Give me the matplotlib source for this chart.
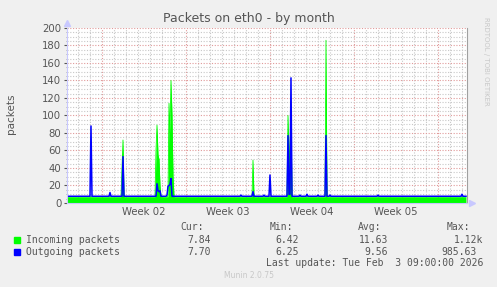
import numpy as np
import matplotlib
matplotlib.use("Agg")
import matplotlib.pyplot as plt
from matplotlib.ticker import MultipleLocator, FixedLocator

# samples every 2 hours over the month window (400 samples = 33.3 days)
n_samples = 400
step_days = 1.0 / 12

in_base = 7.2
out_base = 7.7

# spikes: (sample index, packets)
in_spikes = [(55, 40), (56, 72), (89, 60), (90, 89), (91, 55), (92, 50), (93, 20),
             (102, 114), (103, 80), (104, 140), (105, 100), (106, 30),
             (186, 49), (221, 100), (222, 60), (223, 60), (224, 106), (259, 186)]
out_spikes = [(24, 88), (43, 12), (56, 53), (90, 22), (91, 14), (92, 13), (93, 14),
              (100, 9), (101, 19), (102, 20), (103, 21), (104, 28),
              (174, 9), (186, 13), (197, 9), (203, 32),
              (221, 77), (222, 10), (223, 10), (224, 143),
              (233, 9), (240, 10), (251, 9), (259, 77), (263, 9), (311, 9), (395, 10)]

week_labels = ["Week 02", "Week 03", "Week 04", "Week 05"]
week_starts = [2.92, 9.92, 16.92, 23.92, 30.92]

legend_rows = [("Incoming packets", "#00ff00", "7.84", "6.42", "11.63", "1.12k"),
               ("Outgoing packets", "#0000ff", "7.70", "6.25", "9.56", "985.63")]

days = np.arange(n_samples) * step_days
incoming = np.full(n_samples, in_base)
outgoing = np.full(n_samples, out_base)
for i, v in in_spikes:
    incoming[i] = v
for i, v in out_spikes:
    outgoing[i] = v

fig = plt.figure(figsize=(4.97, 2.87), dpi=100, facecolor="#f0f0f0")
ax = fig.add_axes([0.1348, 0.2927, 0.8048, 0.6098])
ax.set_facecolor("white")

ax.fill_between(days, 0, incoming, color="#00ff00", lw=0)
ax.plot(days, incoming, color="#00ff00", lw=0.6)
ax.plot(days, outgoing, color="#0000ff", lw=1.1)

ax.set_xlim(0, n_samples * step_days)
ax.set_ylim(0, 200)

ax.yaxis.set_major_locator(MultipleLocator(20))
ax.yaxis.set_minor_locator(MultipleLocator(5))
ax.xaxis.set_major_locator(FixedLocator(week_starts))
ax.xaxis.set_minor_locator(FixedLocator(np.arange(0.92, 33.3, 1.0)))
ax.grid(which="major", color="#e09a9a", ls=(0, (1, 1.5)), lw=0.8)
ax.grid(which="minor", color="#c8c8c8", ls=(0, (1, 1.5)), lw=0.8)
ax.set_axisbelow(True)

ax.set_xticklabels([])
for wk, start in zip(week_labels, week_starts):
    ax.text(start + 3.5, -5, wk, ha="center", va="top", fontsize=7.3, color="#555555")

ax.tick_params(axis="y", which="major", labelsize=7.3, colors="#555555", length=2, pad=2)
ax.tick_params(axis="y", which="minor", length=1, color="#999999")
ax.tick_params(axis="x", which="both", length=0)

ax.spines["top"].set_visible(False)
ax.spines["left"].set_color("#c8c8ff")
ax.spines["bottom"].set_color("#c8c8ff")
ax.spines["right"].set_color("#a0a0a0")
ax.plot([0], [1.03], marker="^", ms=4, color="#c8c8ff", transform=ax.transAxes, clip_on=False)
ax.plot([1.013], [0], marker=">", ms=4, color="#c8c8ff", transform=ax.transAxes, clip_on=False)

W, H = 497, 287
fig.text(11 / W, 1 - 114 / H, "packets", rotation=90, ha="center", va="center",
         fontsize=7.5, color="#555555")
fig.text(0.5, 0.935, "Packets on eth0 - by month", ha="center", va="center",
         fontsize=9, color="#555555")
fig.text(0.978, 0.94, "RRDTOOL / TOBI OETIKER", rotation=270, ha="center", va="top",
         fontsize=5, color="#c8c8c8")

mono = "DejaVu Sans Mono"
def t(x, y, s, ha="right", **kw):
    fig.text(x / W, 1 - y / H, s, ha=ha, va="center", family=mono, fontsize=7,
             color="#555555", **kw)

t(204, 227, "Cur:")
t(293, 227, "Min:")
t(381, 227, "Avg:")
t(470, 227, "Max:")
for row, (name, col, cur, mn, avg, mx) in enumerate(legend_rows):
    y = 240 + row * 12
    fig.patches.append(plt.Rectangle((14 / W, 1 - (y + 3) / H), 6 / W, 6 / H,
                                     color=col, transform=fig.transFigure))
    t(26, y, name, ha="left")
    t(211, y, cur)
    t(299, y, mn)
    t(388, y, avg)
    t(483 if row == 0 else 477, y, mx)
t(483, 263, "Last update: Tue Feb  3 09:00:00 2026")
fig.text(0.5, 1 - 276 / H, "Munin 2.0.75", ha="center", va="center", fontsize=5.5,
         color="#c8c8c8")

fig.savefig("out.png", dpi=100, facecolor=fig.get_facecolor())
